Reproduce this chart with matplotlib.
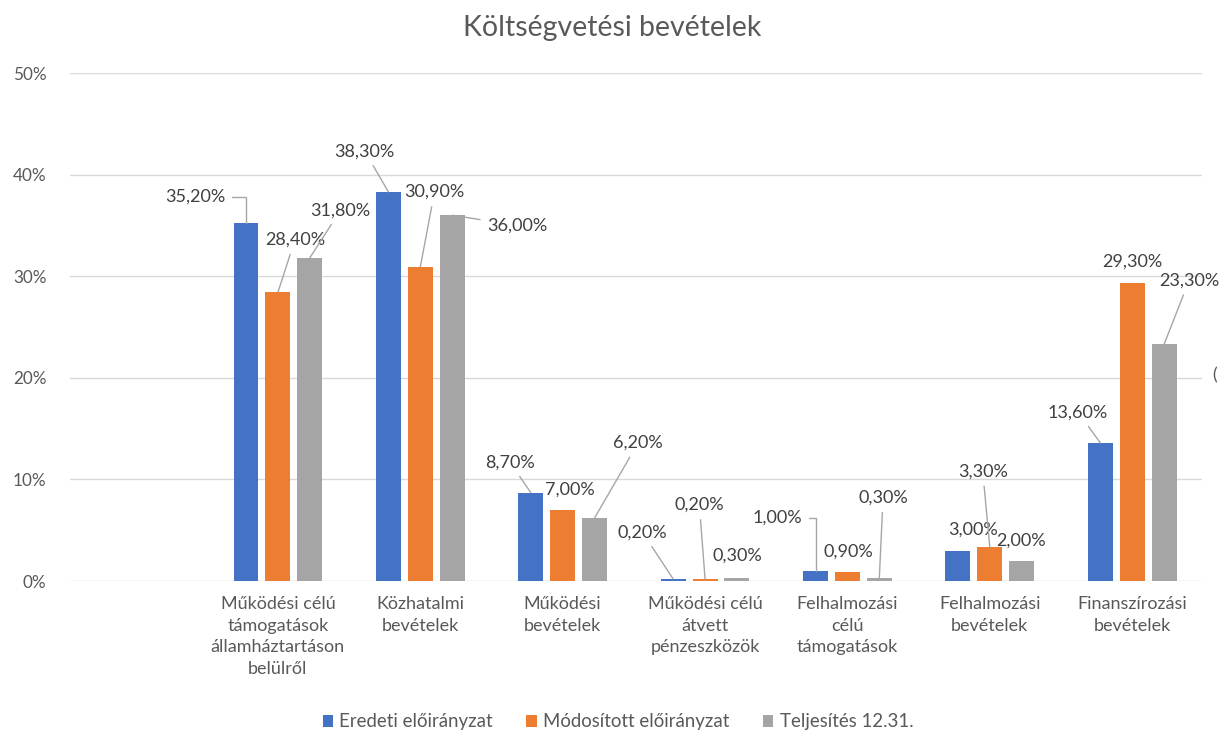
import numpy as np
import matplotlib.pyplot as plt

###
# Data
###

categories = [
    "Működési célú\ntámogatások\nállamháztartáson\nbelülről",
    "Közhatalmi\nbevételek",
    "Működési\nbevételek",
    "Működési célú\nátvett\npénzeszközök",
    "Felhalmozási\ncélú\ntámogatások",
    "Felhalmozási\nbevételek",
    "Finanszírozási\nbevételek",
]
series_names = ["Eredeti előirányzat", "Módosított előirányzat", "Teljesítés 12.31."]
eredeti = [35.2, 38.3, 8.7, 0.2, 1.0, 3.0, 13.6]
modositott = [28.4, 30.9, 7.0, 0.2, 0.9, 3.3, 29.3]
teljesites = [31.8, 36.0, 6.2, 0.3, 0.3, 2.0, 23.3]

colors = ["#4472C4", "#ED7D31", "#A5A5A5"]

# label placement (x offset from group centre, y in %), leader style
label_pos = [
    [(-0.58, 37.8, "elbow"), (0.12, 33.6, "line"), (0.44, 36.5, "line")],
    [(-0.39, 42.3, "line"), (0.10, 38.3, "line"), (0.68, 35.0, "flat")],
    [(-0.37, 11.7, "line"), (0.05, 9.0, None), (0.53, 13.6, "line")],
    [(-0.44, 4.8, "line"), (-0.04, 7.5, "line"), (0.23, 2.5, None)],
    [(-0.49, 6.2, "elbow"), (0.01, 2.9, None), (0.25, 8.2, "line")],
    [(-0.12, 5.1, None), (-0.05, 10.8, "line"), (0.22, 4.0, None)],
    [(-0.38, 16.6, "line"), (0.00, 31.4, None), (0.40, 29.6, "line")],
]

###
# Plot
###

plt.rcParams['font.family'] = ['Lato', 'DejaVu Sans']
text_color = "#595959"
label_color = "#404040"

fig = plt.figure(figsize=(12.19, 7.36), dpi=100)
ax = fig.add_axes([70 / 1219, 1 - 581 / 736, (1202 - 70) / 1219, (581 - 73) / 736])

x = np.arange(len(categories))
width = 0.175
step = 0.224
all_series = [eredeti, modositott, teljesites]

for k, (vals, name, c) in enumerate(zip(all_series, series_names, colors)):
    ax.bar(x + (k - 1) * step, vals, width, color=c, label=name, zorder=3)

for i in range(len(categories)):
    for k, vals in enumerate(all_series):
        v = vals[i]
        bx = x[i] + (k - 1) * step
        dx, ly, style = label_pos[i][k]
        txt = f"{v:.2f}%".replace(".", ",")
        lx = x[i] + dx
        if style is None:
            ax.text(lx, ly, txt, ha="center", va="center", fontsize=13, color=label_color)
            continue
        if style == "elbow":
            conn = "angle,angleA=0,angleB=90,rad=0"
        else:
            conn = "arc3,rad=0"
        ax.annotate(txt, xy=(bx, v), xytext=(lx, ly), ha="center", va="center",
                    fontsize=13, color=label_color,
                    arrowprops=dict(arrowstyle="-", color="#A6A6A6", lw=1,
                                    connectionstyle=conn, shrinkA=3, shrinkB=0))

ax.set_ylim(0, 50)
ax.set_xlim(-1.46, 6.49)
ax.set_yticks(np.arange(0, 51, 10))
ax.set_yticklabels([f"{t}%" for t in range(0, 51, 10)])
ax.set_xticks(x)
ax.set_xticklabels(categories, fontsize=13, color=text_color, linespacing=1.42)
ax.tick_params(axis="y", labelsize=12.3, labelcolor=text_color, length=0, pad=17)
ax.tick_params(axis="x", length=0, pad=11)
ax.grid(axis="y", color="#D9D9D9", lw=1, zorder=0)
for spine in ax.spines.values():
    spine.set_visible(False)

fig.text(612 / 1219, 1 - 28 / 736, "Költségvetési bevételek", ha="center", va="center",
         fontsize=20.5, color=text_color)

# cut-off character at the right edge of the source image
fig.text(1212 / 1219, 1 - 375 / 736, "(", ha="left", va="center", fontsize=13, color=text_color)

fig.legend(loc="center", bbox_to_anchor=(618 / 1219, 1 - 722 / 736), ncol=3, frameon=False,
           fontsize=13.4, labelcolor=text_color, handlelength=0.55, handleheight=0.55,
           handletextpad=0.35, columnspacing=1.8)

fig.savefig("out.png", dpi=100)
